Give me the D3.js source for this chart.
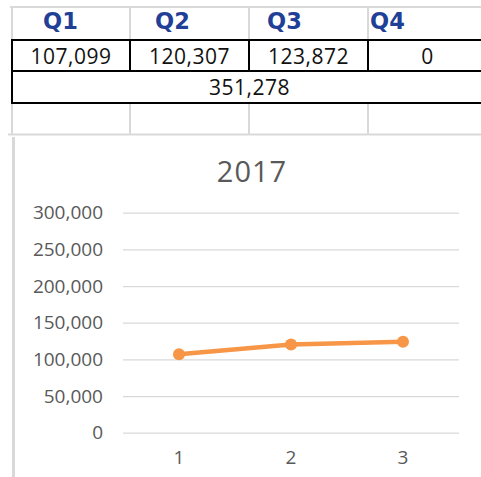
<!DOCTYPE html>
<meta charset="utf-8">
<style>
    body { margin: 0; background: white; }
    text { font-family: "Open Sans", sans-serif; }
</style>
<body>
    <script src="https://d3js.org/d3.v7.min.js"></script>
    <script>
        // data
        var quarters = ["Q1", "Q2", "Q3", "Q4"];
        var quarterValues = [107099, 120307, 123872, 0];
        var yearTotal = 351278;

        var chartTitle = "2017";
        var categories = ["1", "2", "3"];
        var seriesValues = [107099, 120307, 123872];
        var yTicks = [0, 50000, 100000, 150000, 200000, 250000, 300000];

        var width = 481,
            height = 477;

        var svg = d3.select("body").append("svg")
            .attr("width", width)
            .attr("height", height);

        var fmt = d3.format(",");

        // ---- spreadsheet part ----
        var colX = [12, 130, 249, 368, 487];
        var headerIndent = [31, 25, 18, 2];
        var grey = "#d9d9d9";

        var sheet = svg.append("g");

        // light grid lines
        sheet.append("line").attr("x1", 10).attr("x2", width).attr("y1", 7).attr("y2", 7)
            .attr("stroke", grey).attr("stroke-width", 2);
        sheet.append("line").attr("x1", 8).attr("x2", width).attr("y1", 134.5).attr("y2", 134.5)
            .attr("stroke", grey).attr("stroke-width", 2);
        colX.slice(0, 4).forEach(function(x) {
            sheet.append("line").attr("x1", x).attr("x2", x).attr("y1", 7).attr("y2", 40)
                .attr("stroke", grey).attr("stroke-width", 2);
            sheet.append("line").attr("x1", x).attr("x2", x).attr("y1", 103).attr("y2", 134)
                .attr("stroke", grey).attr("stroke-width", 2);
        });

        // black borders
        [40, 71, 103].forEach(function(y) {
            sheet.append("line").attr("x1", 11).attr("x2", width).attr("y1", y).attr("y2", y)
                .attr("stroke", "#000").attr("stroke-width", 2);
        });
        sheet.append("line").attr("x1", 12).attr("x2", 12).attr("y1", 39).attr("y2", 104)
            .attr("stroke", "#000").attr("stroke-width", 2);
        colX.slice(1, 4).forEach(function(x) {
            sheet.append("line").attr("x1", x).attr("x2", x).attr("y1", 40).attr("y2", 71)
                .attr("stroke", "#000").attr("stroke-width", 2);
        });

        // header labels
        sheet.selectAll(".qh")
            .data(quarters)
            .enter().append("text")
            .attr("class", "qh")
            .attr("x", function(d, i) { return colX[i] + headerIndent[i]; })
            .attr("y", 29)
            .style("font-family", "'DejaVu Sans', sans-serif")
            .style("font-size", "22.5px")
            .style("font-weight", "bold")
            .style("fill", "#1f4096")
            .text(function(d) { return d; });

        // quarter values
        sheet.selectAll(".qv")
            .data(quarterValues)
            .enter().append("text")
            .attr("class", "qv")
            .attr("x", function(d, i) { return (colX[i] + colX[i + 1]) / 2; })
            .attr("y", 64)
            .attr("text-anchor", "middle")
            .style("font-size", "21px")
            .style("letter-spacing", "0.5px")
            .style("fill", "#111")
            .text(function(d) { return fmt(d); });

        // total
        sheet.append("text")
            .attr("x", (colX[0] + colX[4]) / 2)
            .attr("y", 95)
            .attr("text-anchor", "middle")
            .style("font-size", "21px")
            .style("letter-spacing", "0.5px")
            .style("fill", "#111")
            .text(fmt(yearTotal));

        // ---- chart part ----
        svg.append("line").attr("x1", 13.5).attr("x2", 13.5).attr("y1", 137).attr("y2", height)
            .attr("stroke", grey).attr("stroke-width", 3);

        var x = d3.scaleBand()
            .domain(categories)
            .range([123, 459]);

        var y = d3.scaleLinear()
            .domain([0, 300000])
            .range([432.7, 212.7]);

        svg.append("text")
            .attr("x", 252)
            .attr("y", 182)
            .attr("text-anchor", "middle")
            .style("font-size", "29px")
            .style("letter-spacing", "1px")
            .style("fill", "#595959")
            .text(chartTitle);

        // gridlines
        var grid = svg.append("g")
            .attr("transform", "translate(123,0)")
            .call(d3.axisLeft(y).tickValues(yTicks).tickSize(-336).tickFormat(""));
        grid.select(".domain").remove();
        grid.selectAll(".tick line").attr("stroke", grey).attr("stroke-width", 1.3);

        // y labels
        var yAxis = svg.append("g")
            .attr("transform", "translate(123,0)")
            .call(d3.axisLeft(y).tickValues(yTicks).tickSize(0).tickPadding(20).tickFormat(fmt));
        yAxis.select(".domain").remove();
        yAxis.selectAll("text")
            .style("font-family", "'Open Sans', sans-serif")
            .style("font-size", "19px")
            .style("fill", "#595959");

        // x labels
        var xAxis = svg.append("g")
            .attr("transform", "translate(0,432.7)")
            .call(d3.axisBottom(x).tickSize(0).tickPadding(18));
        xAxis.select(".domain").remove();
        xAxis.selectAll("text")
            .style("font-family", "'Open Sans', sans-serif")
            .style("font-size", "19px")
            .style("fill", "#595959");

        // series
        var line = d3.line()
            .x(function(d, i) { return x(categories[i]) + x.bandwidth() / 2; })
            .y(function(d) { return y(d); });

        svg.append("path")
            .datum(seriesValues)
            .attr("d", line)
            .attr("fill", "none")
            .attr("stroke", "#f79646")
            .attr("stroke-width", 4.5)
            .attr("stroke-linecap", "round");

        svg.selectAll(".dot")
            .data(seriesValues)
            .enter().append("circle")
            .attr("class", "dot")
            .attr("cx", function(d, i) { return x(categories[i]) + x.bandwidth() / 2; })
            .attr("cy", function(d) { return y(d); })
            .attr("r", 6)
            .style("fill", "#f79646");
    </script>
</body>
</html>
